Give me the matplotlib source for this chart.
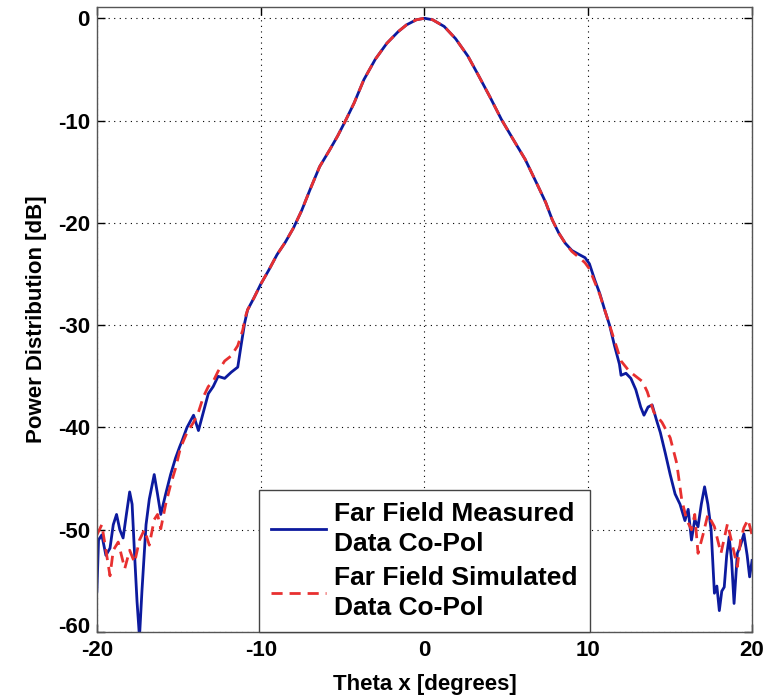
"""
Far field co-pol pattern: measured vs simulated, MATLAB-style figure.
"""

import matplotlib
matplotlib.use('Agg')
import matplotlib.pyplot as plt
from matplotlib.transforms import ScaledTranslation

# ── Data ──────────────────────────────────────────────────────────────────────
meas_x = [-20.0, -19.9, -19.7, -19.45, -19.2, -19.0, -18.8, -18.6, -18.4, -18.2,
          -18.0, -17.85, -17.7, -17.55, -17.4, -17.25, -17.0, -16.8, -16.5, -16.3,
          -16.1, -15.8, -15.5, -15.2, -14.95, -14.8, -14.5, -14.1, -13.8, -13.5,
          -13.2, -12.9, -12.6, -12.2, -11.8, -11.4, -11.2, -10.98, -10.8, -10.4,
          -10.0, -9.5, -9.0, -8.5, -8.0, -7.5, -7.0, -6.4, -5.8, -5.3,
          -4.85, -4.3, -3.7, -3.0, -2.3, -1.6, -1.1, -0.5, 0.0,
          0.5, 1.2, 1.9, 2.65, 3.3, 4.0, 4.7, 5.4, 6.15, 6.9,
          7.4, 7.8, 8.2, 8.6, 9.0, 9.45, 9.8, 10.07, 10.4, 10.7,
          11.0, 11.3, 11.6, 11.9, 12.0, 12.3, 12.6, 12.9, 13.2, 13.4,
          13.65, 13.9, 14.15, 14.4, 14.7, 15.0, 15.3, 15.6, 15.9, 16.1,
          16.3, 16.5, 16.7, 16.9, 17.1, 17.3, 17.5, 17.7, 17.85, 18.0,
          18.15, 18.3, 18.45, 18.6, 18.75, 18.9, 19.1, 19.3, 19.5, 19.7,
          19.85, 20.0]
meas_db = [-56.0, -51.0, -50.5, -52.5, -51.8, -49.5, -48.5, -50.0, -50.8, -48.5,
           -46.3, -47.5, -52.4, -57.0, -60.5, -56.0, -49.5, -47.0, -44.6, -46.5,
           -48.5, -46.5, -44.6, -43.0, -41.9, -41.3, -40.0, -38.8, -40.3, -38.5,
           -36.7, -36.0, -35.0, -35.2, -34.6, -34.1, -32.0, -29.8, -28.5, -27.3,
           -26.0, -24.6, -23.1, -21.9, -20.5, -18.8, -16.8, -14.5, -12.9, -11.5,
           -10.1, -8.3, -6.0, -4.0, -2.45, -1.3, -0.65, -0.15, 0.0,
           -0.15, -0.8, -2.0, -3.7, -5.6, -7.7, -9.9, -11.8, -13.8, -16.3,
           -18.0, -19.7, -21.0, -22.0, -22.7, -23.1, -23.4, -24.0, -25.6, -26.9,
           -28.5, -30.0, -32.0, -33.8, -34.9, -34.7, -35.2, -36.3, -38.0, -38.8,
           -38.0, -37.8, -39.2, -40.5, -42.5, -44.6, -46.5, -47.5, -49.1, -48.0,
           -51.0, -49.0, -49.7, -47.5, -45.8, -47.5, -50.0, -56.2, -55.5, -57.9,
           -56.0, -55.6, -52.5, -50.7, -53.0, -57.2, -52.3, -51.5, -50.4, -52.5,
           -54.6, -53.0]

sim_x = [-20.0, -19.7, -19.45, -19.2, -19.0, -18.7, -18.5, -18.3, -18.0, -17.7,
         -17.4, -17.1, -16.8, -16.5, -16.3, -16.1, -15.8, -15.5, -15.2, -14.9,
         -14.5, -14.1, -13.8, -13.5, -13.2, -12.9, -12.6, -12.2, -11.8, -11.4,
         -11.1, -10.9, -10.8, -10.4, -10.0, -9.5, -9.0, -8.5, -8.0, -7.5,
         -7.0, -6.4, -5.8, -5.3, -4.85, -4.3, -3.7, -3.0, -2.3, -1.6,
         -1.1, -0.5, 0.0, 0.5, 1.2, 1.9, 2.65, 3.3, 4.0, 4.7,
         5.4, 6.15, 6.9, 7.4, 7.8, 8.2, 8.6, 9.0, 9.45, 9.8,
         10.07, 10.7, 11.3, 11.8, 12.0, 12.5, 12.9, 13.3, 13.6, 14.0,
         14.5, 15.0, 15.4, 15.7, 16.0, 16.3, 16.5, 16.7, 17.0, 17.3,
         17.7, 18.1, 18.5, 18.8, 19.1, 19.3, 19.5, 19.75, 20.0]
sim_db = [-50.5, -49.5, -52.0, -54.5, -52.0, -51.2, -52.5, -53.8, -52.0, -53.2,
          -51.0, -50.0, -51.5, -49.0, -48.5, -49.9, -47.5, -45.6, -44.0, -42.0,
          -40.5, -39.5, -38.5, -37.0, -36.0, -35.5, -34.5, -33.5, -33.0, -32.0,
          -30.5, -29.0, -28.5, -27.3, -26.0, -24.6, -23.1, -21.9, -20.5, -18.8,
          -16.8, -14.5, -12.9, -11.5, -10.1, -8.3, -6.0, -4.0, -2.45, -1.3,
          -0.65, -0.15, 0.0, -0.15, -0.8, -2.0, -3.7, -5.6, -7.7, -9.9,
          -11.8, -13.8, -16.3, -18.0, -19.7, -21.0, -22.0, -22.8, -23.4, -23.9,
          -24.5, -27.0, -30.0, -32.5, -33.5, -34.5, -35.0, -35.5, -36.5, -38.5,
          -39.5, -41.0, -43.5, -47.0, -49.0, -50.0, -48.5, -52.3, -50.5, -48.5,
          -49.7, -52.3, -49.4, -51.5, -53.6, -51.0, -49.8, -49.0, -50.5]

x_ticks = [-20, -10, 0, 10, 20]
y_ticks = [0, -10, -20, -30, -40, -50, -60]
labels = ['Far Field Measured\nData Co-Pol', 'Far Field Simulated\nData Co-Pol']

# ── Figure ────────────────────────────────────────────────────────────────────
plt.rcParams['font.family'] = ['Liberation Sans', 'DejaVu Sans']
plt.rcParams['font.weight'] = 'bold'
plt.rcParams['axes.unicode_minus'] = False

fig = plt.figure(figsize=(7.69, 7.0), dpi=100)
ax = fig.add_axes([0.126, 0.097, 0.852, 0.893])

ax.plot(meas_x, meas_db, color='#0c1a9e', lw=2.0, label=labels[0])
ax.plot(sim_x, sim_db, color='#e83030', lw=2.0, ls=(0, (4, 2.5)), label=labels[1])

ax.set_xlim(-20, 20)
ax.set_ylim(-60, 1.1)
ax.set_xticks(x_ticks)
ax.set_yticks(y_ticks)
ax.tick_params(direction='in', top=True, right=True, length=6, width=1,
               labelsize=16)
ax.tick_params(axis='x', pad=6)
ax.tick_params(axis='y', pad=5)
for lab in ax.get_xticklabels() + ax.get_yticklabels():
    lab.set_fontweight('bold')
# "-60" sits a little higher so it doesn't collide with "-20"
lab60 = ax.get_yticklabels()[-1]
lab60.set_transform(lab60.get_transform() + ScaledTranslation(0, 5 / 72, fig.dpi_scale_trans))

ax.grid(True, color='black', ls=(0, (1, 4)), lw=0.8)
for sp in ax.spines.values():
    sp.set_color('#555555')
    sp.set_linewidth(1.0)

ax.set_xlabel('Theta x [degrees]', fontsize=16, fontweight='bold', labelpad=9)
ax.set_ylabel('Power Distribution [dB]', fontsize=16, fontweight='bold', labelpad=8)

leg = ax.legend(loc='lower center', bbox_to_anchor=(0.5, 0.0), borderaxespad=0,
                fancybox=False, framealpha=1, edgecolor='#444444',
                prop={'size': 19, 'weight': 'bold'}, handlelength=2.1,
                handletextpad=0.3, labelspacing=0.35, borderpad=0.45)
for t in leg.get_texts():
    t.set_linespacing(1.35)
leg.get_frame().set_linewidth(1.0)

fig.savefig('out.png', dpi=100)
